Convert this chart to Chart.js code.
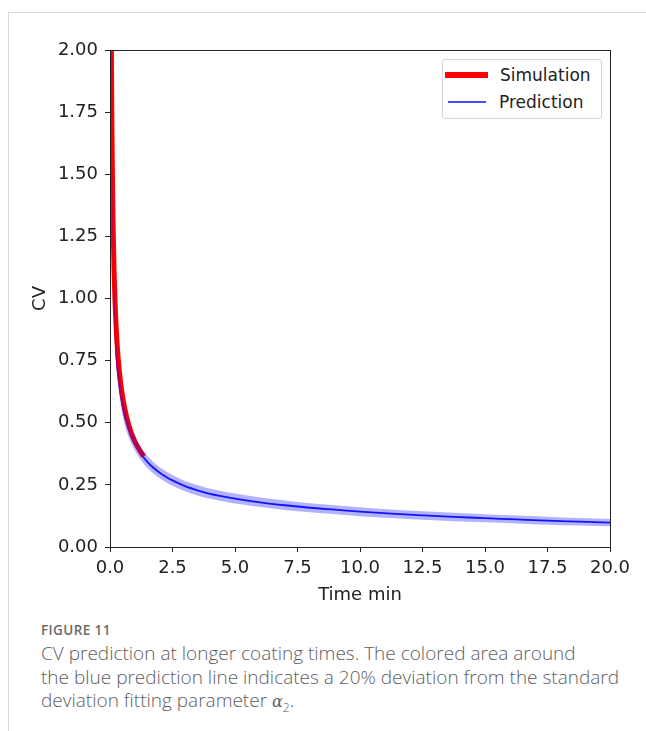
<!DOCTYPE html>
<html>
<head>
<meta charset="utf-8">
<script src="https://cdn.jsdelivr.net/npm/chart.js@4/dist/chart.umd.min.js"></script>
<style>
  html, body { margin: 0; padding: 0; background: #fff; }
  body { width: 646px; height: 731px; position: relative; overflow: hidden; }
  .card-top { position: absolute; left: 8px; top: 12px; right: 0; height: 1px; background: #d9d9d9; }
  .card-left { position: absolute; left: 8px; top: 12px; bottom: 0; width: 1px; background: #d9d9d9; }
  #wrap { position: absolute; left: 0; top: 0; width: 646px; height: 610px; }
  #legend {
    position: absolute; left: 442px; top: 59px; width: 158px; height: 58px;
    border: 1px solid #d4d4d4; border-radius: 3px; background: #fff;
    font-family: "DejaVu Sans", sans-serif; font-size: 17px; color: #222;
  }
  .row { position: absolute; left: 0; height: 20px; }
  .swatch { position: absolute; }
  .lbl { position: absolute; left: 57px; top: 0; line-height: 20px; white-space: nowrap; }
  .caption { position: absolute; left: 41px; font-family: "Open Sans", sans-serif; color: #5e5e5e; }
  .fig { top: 621px; font-size: 13.5px; letter-spacing: 0.4px; font-weight: 600; color: #6a6a6a; }
  .txt { top: 642px; font-size: 19px; line-height: 23.5px; font-weight: 300; white-space: nowrap; }
</style>
</head>
<body>
<div class="card-top"></div>
<div class="card-left"></div>
<div id="wrap"><canvas id="chart" width="646" height="610"></canvas></div>
<div id="legend">
  <div class="row" style="top:5px; width:158px;">
    <div class="swatch" style="left:2px; top:7px; width:43px; height:6px; background:#ff0000;"></div>
    <div class="lbl">Simulation</div>
  </div>
  <div class="row" style="top:32px; width:158px;">
    <div class="swatch" style="left:5px; top:9px; width:38px; height:2px; background:rgba(0,0,255,0.7);"></div>
    <div class="lbl" style="left:56px;">Prediction</div>
  </div>
</div>
<div class="caption fig">FIGURE 11</div>
<div class="caption txt">CV prediction at longer coating times. The colored area around<br>the blue prediction line indicates a 20% deviation from the standard<br>deviation fitting parameter <i style="font-family:'DejaVu Serif',serif;font-size:16px;font-weight:400;">α</i><sub style="font-size:12px;">2</sub>.</div>

<script>
// Valores
var predTime = [0.04, 0.05, 0.06, 0.08, 0.11, 0.16, 0.23, 0.3, 0.4, 0.5, 0.62, 0.8, 1.0, 1.15, 1.3, 1.5, 1.75, 2.0, 2.25, 2.5,
                3.0, 3.5, 4.0, 4.5, 5.0, 6.0, 7.0, 8.0, 9.0, 10.0, 11.25, 12.5, 13.75, 15.0, 16.25, 17.5, 18.75, 20.0];
var predCV = [2.10, 1.88, 1.72, 1.48, 1.25, 1.03, 0.82, 0.72, 0.635, 0.57, 0.515, 0.46, 0.415, 0.388, 0.366, 0.342, 0.318, 0.298, 0.282, 0.268,
              0.245, 0.228, 0.214, 0.204, 0.195, 0.180, 0.168, 0.158, 0.150, 0.142, 0.134, 0.127, 0.121, 0.116, 0.111, 0.106, 0.102, 0.098];
var bandHigh = [2.25, 2.015, 1.84, 1.58, 1.335, 1.10, 0.878, 0.77, 0.679, 0.609, 0.55, 0.491, 0.443, 0.414, 0.391, 0.366, 0.341, 0.32, 0.304, 0.29,
                0.266, 0.249, 0.234, 0.224, 0.215, 0.199, 0.187, 0.176, 0.168, 0.16, 0.151, 0.144, 0.138, 0.132, 0.127, 0.122, 0.117, 0.113];
var bandLow = [1.95, 1.745, 1.60, 1.38, 1.165, 0.96, 0.762, 0.67, 0.591, 0.531, 0.48, 0.429, 0.387, 0.362, 0.341, 0.318, 0.295, 0.276, 0.26, 0.246,
               0.224, 0.207, 0.194, 0.184, 0.175, 0.161, 0.149, 0.14, 0.132, 0.124, 0.117, 0.11, 0.104, 0.10, 0.095, 0.09, 0.087, 0.083];
var simTime = [0.05, 0.06, 0.07, 0.09, 0.12, 0.16, 0.2, 0.26, 0.33, 0.42, 0.52, 0.65, 0.8, 0.95, 1.1, 1.25, 1.35];
var simCV = [2.10, 1.92, 1.77, 1.55, 1.32, 1.12, 0.99, 0.86, 0.755, 0.665, 0.595, 0.53, 0.475, 0.435, 0.405, 0.38, 0.365];
var xTicks = [0, 2.5, 5, 7.5, 10, 12.5, 15, 17.5, 20];
var yTicks = [0, 0.25, 0.5, 0.75, 1.0, 1.25, 1.5, 1.75, 2.0];

function pairs(xs, ys) {
    return xs.map(function(x, i) { return {x: x, y: ys[i]}; });
}

var tickFont = {family: 'DejaVu Sans', size: 18};

// moldura do eixo (estilo matplotlib)
var framePlugin = {
    id: 'frame',
    afterDatasetsDraw: function(chart) {
        var a = chart.chartArea, ctx = chart.ctx;
        ctx.save();
        ctx.strokeStyle = '#222';
        ctx.lineWidth = 1;
        ctx.strokeRect(Math.round(a.left) + 0.5, Math.round(a.top) + 0.5, Math.round(a.right - a.left), Math.round(a.bottom - a.top));
        ctx.restore();
    }
};

var ctx = document.getElementById('chart').getContext('2d');
var chart = new Chart(ctx, {
    type: 'line',
    data: {
        datasets: [
            {
                label: 'band low',
                data: pairs(predTime, bandLow),
                borderWidth: 0,
                pointRadius: 0,
                fill: false,
                cubicInterpolationMode: 'monotone'
            },
            {
                label: 'band high',
                data: pairs(predTime, bandHigh),
                borderWidth: 0,
                pointRadius: 0,
                backgroundColor: 'rgba(0,0,255,0.3)',
                fill: '-1',
                cubicInterpolationMode: 'monotone'
            },
            {
                label: 'Simulation',
                data: pairs(simTime, simCV),
                borderColor: '#ff0000',
                borderWidth: 5,
                pointRadius: 0,
                fill: false,
                cubicInterpolationMode: 'monotone'
            },
            {
                label: 'Prediction',
                data: pairs(predTime, predCV),
                borderColor: 'rgba(0,0,255,0.9)',
                borderWidth: 1.8,
                pointRadius: 0,
                fill: false,
                cubicInterpolationMode: 'monotone'
            }
        ]
    },
    options: {
        responsive: false,
        animation: false,
        layout: {padding: {top: 50, right: 36, left: 0, bottom: 0}},
        plugins: {
            legend: {display: false},
            tooltip: {enabled: false}
        },
        scales: {
            x: {
                type: 'linear',
                min: 0,
                max: 20,
                afterFit: function(scale) { scale.height = 63; },
                afterBuildTicks: function(scale) {
                    scale.ticks = xTicks.map(function(v) { return {value: v}; });
                },
                ticks: {
                    font: tickFont,
                    color: '#222',
                    padding: 6,
                    maxRotation: 0,
                    callback: function(v) { return Number(v).toFixed(1); }
                },
                grid: {drawOnChartArea: false, drawTicks: true, tickLength: 5, color: '#222'},
                border: {display: true, color: '#222'},
                title: {
                    display: true,
                    text: 'Time min',
                    font: tickFont,
                    color: '#222',
                    padding: {top: 0, bottom: 4}
                }
            },
            y: {
                type: 'linear',
                min: 0,
                max: 2,
                afterFit: function(scale) { scale.width = 110; },
                afterBuildTicks: function(scale) {
                    scale.ticks = yTicks.map(function(v) { return {value: v}; });
                },
                ticks: {
                    font: tickFont,
                    color: '#222',
                    padding: 7,
                    callback: function(v) { return Number(v).toFixed(2); }
                },
                grid: {drawOnChartArea: false, drawTicks: true, tickLength: 5, color: '#222'},
                border: {display: true, color: '#222'},
                title: {
                    display: true,
                    text: 'CV',
                    font: tickFont,
                    color: '#222',
                    padding: {top: 30, bottom: 0}
                }
            }
        }
    },
    plugins: [framePlugin]
});
</script>
</body>
</html>
